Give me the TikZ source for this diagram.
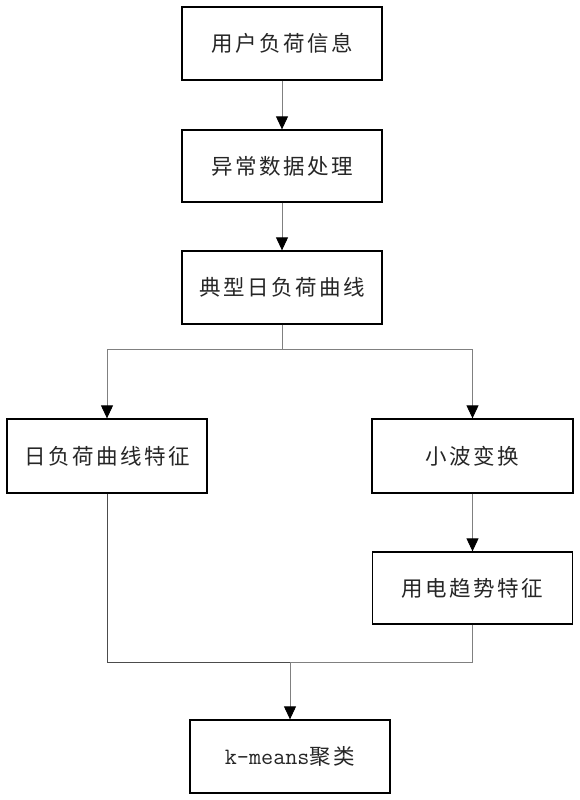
\documentclass[tikz,border=0pt]{standalone}
\usepackage{fontspec}
\setmainfont{Noto Sans CJK SC}
\newfontfamily\latinmono{Latin Modern Mono}
\usetikzlibrary{arrows.meta}
\tikzset{
  box/.style={draw=black, line width=1.3pt, rectangle, minimum width=200pt, minimum height=73pt, inner sep=0pt,
    font=\fontsize{21.5}{24}\selectfont\addfontfeature{LetterSpace=12}, text=black!85},
  conn/.style={draw=black!50, line width=0.9pt},
  arr/.style={conn, -{Triangle[color=black, fill=black, width=12pt, length=13pt]}}
}
\begin{document}
\begin{tikzpicture}[x=1pt, y=-1pt]
\useasboundingbox (0,0) rectangle (580,800);
\fill[white] (0,0) rectangle (580,800);
\node[box] (b1) at (282,43.5) {用户负荷信息};
\node[box, minimum height=72pt] (b2) at (282,166) {异常数据处理};
\node[box] (b3) at (282,287.5) {典型日负荷曲线};
\node[box, minimum height=74pt] (b4) at (107,456) {日负荷曲线特征};
\node[box, minimum height=74pt, minimum width=201pt] (b5) at (472.5,456) {小波变换};
\node[box, minimum height=72pt] (b6) at (472.5,588) {用电趋势特征};
\node[box] (b7) at (290,756.5) {{\latinmono\fontsize{23.5}{24}\selectfont k-means}聚类};
\coordinate (split) at (282,349);
\coordinate (merge) at (290,662);
\draw[arr] (b1.south) -- (b2.north);
\draw[arr] (b2.south) -- (b3.north);
\draw[conn] (b3.south) -- (split);
\draw[arr] (split) -| (b4.north);
\draw[arr] (split) -| (b5.north);
\draw[arr] (b5.south) -- (b6.north);
\draw[conn, draw=black!70] (b4.south) |- (merge);
\draw[conn] (b6.south) |- (merge);
\draw[arr] (merge) -- (b7.north);
\end{tikzpicture}
\end{document}
